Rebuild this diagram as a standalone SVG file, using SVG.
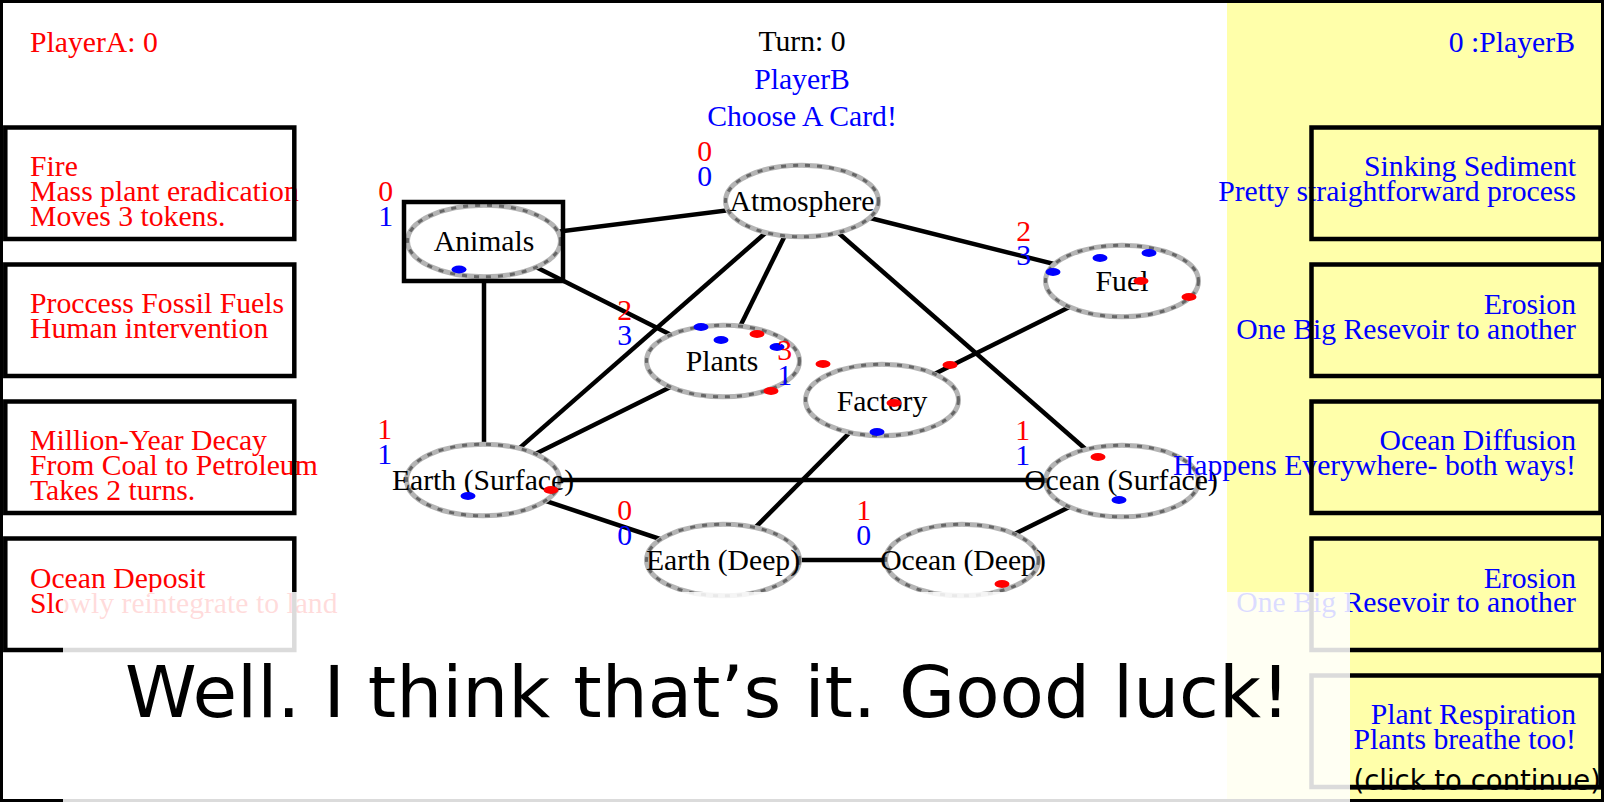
<svg xmlns="http://www.w3.org/2000/svg" width="1604" height="802" viewBox="0 0 1604 802">
<style>
.t{font-family:"Liberation Serif","Times New Roman",serif;font-size:29.7px}
.r{fill:#ff0000}.b{fill:#0000ff}.k{fill:#000}
.e{text-anchor:end}.m{text-anchor:middle}
.card{fill:none;stroke:#000;stroke-width:4.5}
.edge{stroke:#000;stroke-width:4.5}
.ring{fill:#fff;stroke:#b4b4b4;stroke-width:5}
.ring2{fill:none;stroke:#666;stroke-width:3;stroke-dasharray:5 7}
.tr{fill:#ff0000}.tb{fill:#0000ff}
.ov{font-family:"DejaVu Sans",Verdana,sans-serif}
</style>
<rect x="0" y="0" width="1604" height="802" fill="#fff"/>
<rect x="1227" y="0" width="377" height="802" fill="#ffffaa"/>
<rect x="0" y="0" width="1604" height="802" fill="none" stroke="#000" stroke-width="6"/>
<g id="connectors">
<line class="edge" x1="484" y1="241" x2="802" y2="201"/>
<line class="edge" x1="484" y1="241" x2="723" y2="361"/>
<line class="edge" x1="484" y1="241" x2="484" y2="480"/>
<line class="edge" x1="802" y1="201" x2="723" y2="361"/>
<line class="edge" x1="802" y1="201" x2="483" y2="480"/>
<line class="edge" x1="802" y1="201" x2="1122" y2="281"/>
<line class="edge" x1="802" y1="201" x2="1122" y2="481"/>
<line class="edge" x1="723" y1="361" x2="483" y2="480"/>
<line class="edge" x1="1122" y1="281" x2="882" y2="400"/>
<line class="edge" x1="882" y1="400" x2="723" y2="560"/>
<line class="edge" x1="483" y1="480" x2="1122" y2="480"/>
<line class="edge" x1="483" y1="480" x2="723" y2="560"/>
<line class="edge" x1="723" y1="560" x2="962" y2="560"/>
<line class="edge" x1="962" y1="560" x2="1122" y2="481"/>
</g>
<g id="node-animals">
<ellipse class="ring" cx="484" cy="241" rx="76.5" ry="35.8"/>
<ellipse class="ring2" cx="484" cy="241" rx="76.5" ry="35.8"/>
<rect x="404" y="202" width="159" height="79" fill="none" stroke="#000" stroke-width="4.5"/>
<text class="t k m" x="484" y="251">Animals</text>
<text class="t r e" x="393" y="201">0</text><text class="t b e" x="393" y="226">1</text>
<ellipse class="tb" cx="459" cy="269.5" rx="7.5" ry="3.9"/>
</g>
<g id="node-atmosphere">
<ellipse class="ring" cx="802" cy="201" rx="76.5" ry="35.8"/>
<ellipse class="ring2" cx="802" cy="201" rx="76.5" ry="35.8"/>
<text class="t k m" x="802" y="211">Atmosphere</text>
<text class="t r e" x="712" y="161">0</text><text class="t b e" x="712" y="186">0</text>
</g>
<g id="node-fuel">
<ellipse class="ring" cx="1122" cy="281" rx="76.5" ry="35.8"/>
<ellipse class="ring2" cx="1122" cy="281" rx="76.5" ry="35.8"/>
<text class="t k m" x="1122" y="291">Fuel</text>
<text class="t r e" x="1031" y="241">2</text><text class="t b e" x="1031" y="265">3</text>
<ellipse class="tb" cx="1053" cy="272" rx="7.5" ry="3.9"/>
<ellipse class="tb" cx="1100" cy="258" rx="7.5" ry="3.9"/>
<ellipse class="tb" cx="1149" cy="253" rx="7.5" ry="3.9"/>
<ellipse class="tr" cx="1141" cy="281" rx="7.5" ry="3.9"/>
<ellipse class="tr" cx="1189" cy="297" rx="7.5" ry="3.9"/>
</g>
<g id="node-plants">
<ellipse class="ring" cx="723" cy="361" rx="76.5" ry="35.8"/>
<ellipse class="ring2" cx="723" cy="361" rx="76.5" ry="35.8"/>
<text class="t k m" x="722" y="371">Plants</text>
<text class="t r e" x="632" y="320">2</text><text class="t b e" x="632" y="345">3</text>
<ellipse class="tb" cx="701" cy="327" rx="7.5" ry="3.9"/>
<ellipse class="tb" cx="721" cy="340" rx="7.5" ry="3.9"/>
<ellipse class="tr" cx="757" cy="334" rx="7.5" ry="3.9"/>
<ellipse class="tb" cx="777" cy="347" rx="7.5" ry="3.9"/>
<ellipse class="tr" cx="771" cy="391" rx="7.5" ry="3.9"/>
</g>
<g id="node-factory">
<ellipse class="ring" cx="882" cy="400" rx="76.5" ry="35.8"/>
<ellipse class="ring2" cx="882" cy="400" rx="76.5" ry="35.8"/>
<text class="t k m" x="882" y="411">Factory</text>
<text class="t r e" x="792" y="360">3</text><text class="t b e" x="792" y="385">1</text>
<ellipse class="tr" cx="823" cy="364" rx="7.5" ry="3.9"/>
<ellipse class="tr" cx="950" cy="365" rx="7.5" ry="3.9"/>
<ellipse class="tr" cx="894" cy="403" rx="7.5" ry="3.9"/>
<ellipse class="tb" cx="877" cy="432" rx="7.5" ry="3.9"/>
</g>
<g id="node-earth-surface">
<ellipse class="ring" cx="483" cy="480" rx="76.5" ry="35.8"/>
<ellipse class="ring2" cx="483" cy="480" rx="76.5" ry="35.8"/>
<text class="t k m" x="483" y="490">Earth (Surface)</text>
<text class="t r e" x="392" y="439">1</text><text class="t b e" x="392" y="464">1</text>
<ellipse class="tb" cx="468" cy="496" rx="7.5" ry="3.9"/>
<ellipse class="tr" cx="551" cy="490" rx="7.5" ry="3.9"/>
</g>
<g id="node-ocean-surface">
<ellipse class="ring" cx="1122" cy="481" rx="76.5" ry="35.8"/>
<ellipse class="ring2" cx="1122" cy="481" rx="76.5" ry="35.8"/>
<text class="t k m" x="1121" y="490">Ocean (Surface)</text>
<text class="t r e" x="1030" y="440">1</text><text class="t b e" x="1030" y="465">1</text>
<ellipse class="tr" cx="1098" cy="457" rx="7.5" ry="3.9"/>
<ellipse class="tb" cx="1119" cy="500" rx="7.5" ry="3.9"/>
</g>
<g id="node-earth-deep">
<ellipse class="ring" cx="723" cy="560" rx="76.5" ry="35.8"/>
<ellipse class="ring2" cx="723" cy="560" rx="76.5" ry="35.8"/>
<text class="t k m" x="723" y="570">Earth (Deep)</text>
<text class="t r e" x="632" y="520">0</text><text class="t b e" x="632" y="545">0</text>
</g>
<g id="node-ocean-deep">
<ellipse class="ring" cx="962" cy="560" rx="76.5" ry="35.8"/>
<ellipse class="ring2" cx="962" cy="560" rx="76.5" ry="35.8"/>
<text class="t k m" x="963" y="570">Ocean (Deep)</text>
<text class="t r e" x="871" y="520">1</text><text class="t b e" x="871" y="545">0</text>
<ellipse class="tr" cx="1002" cy="584" rx="7.5" ry="3.9"/>
</g>
<g id="header">
<text class="t r" x="30" y="52">PlayerA: 0</text>
<text class="t k m" x="802" y="51">Turn: 0</text>
<text class="t b m" x="802" y="89">PlayerB</text>
<text class="t b m" x="802" y="126">Choose A Card!</text>
<text class="t b e" x="1575" y="52">0 :PlayerB</text>
</g>
<g id="card-left-1">
<text class="t r" x="30" y="176">Fire</text>
<text class="t r" x="30" y="201">Mass plant eradication</text>
<text class="t r" x="30" y="226">Moves 3 tokens.</text>
<rect class="card" x="5.3" y="127.5" width="289" height="111.5"/>
</g>
<g id="card-left-2">
<text class="t r" x="30" y="313">Proccess Fossil Fuels</text>
<text class="t r" x="30" y="338">Human intervention</text>
<rect class="card" x="5.3" y="264.5" width="289" height="111.5"/>
</g>
<g id="card-left-3">
<text class="t r" x="30" y="450">Million-Year Decay</text>
<text class="t r" x="30" y="475">From Coal to Petroleum</text>
<text class="t r" x="30" y="500">Takes 2 turns.</text>
<rect class="card" x="5.3" y="401.5" width="289" height="111.5"/>
</g>
<g id="card-left-4">
<text class="t r" x="30" y="588">Ocean Deposit</text>
<text class="t r" x="30" y="612.5">Slowly reintegrate to land</text>
<rect class="card" x="5.3" y="538.5" width="289" height="111.5"/>
</g>
<g id="card-right-1">
<text class="t b e" x="1576" y="176">Sinking Sediment</text>
<text class="t b e" x="1576" y="200.5">Pretty straightforward process</text>
<rect class="card" x="1311.5" y="127.5" width="289" height="111.5"/>
</g>
<g id="card-right-2">
<text class="t b e" x="1576" y="314">Erosion</text>
<text class="t b e" x="1576" y="338.5">One Big Resevoir to another</text>
<rect class="card" x="1311.5" y="264.5" width="289" height="111.5"/>
</g>
<g id="card-right-3">
<text class="t b e" x="1576" y="450">Ocean Diffusion</text>
<text class="t b e" x="1576" y="474.5">Happens Everywhere- both ways!</text>
<rect class="card" x="1311.5" y="401.5" width="289" height="111.5"/>
</g>
<g id="card-right-4">
<text class="t b e" x="1576" y="587.5">Erosion</text>
<text class="t b e" x="1576" y="612">One Big Resevoir to another</text>
<rect class="card" x="1311.5" y="538.5" width="289" height="111.5"/>
</g>
<g id="card-right-5">
<text class="t b e" x="1576" y="724">Plant Respiration</text>
<text class="t b e" x="1576" y="748.5">Plants breathe too!</text>
<rect class="card" x="1311.5" y="675.5" width="289" height="111.5"/>
</g>
<g id="dialog">
<rect x="63" y="592" width="1287" height="212" fill="#fff" fill-opacity="0.86"/>
<text class="ov" x="125" y="717" font-size="71" fill="#000" textLength="1165" lengthAdjust="spacingAndGlyphs">Well. I think that’s it. Good luck!</text>
<text class="ov" x="1601" y="790" font-size="27.5" fill="#000" text-anchor="end">(click to continue)</text>
<line x1="1350" y1="787.2" x2="1602" y2="787.2" stroke="#000" stroke-width="4.5"/>
</g>
</svg>
